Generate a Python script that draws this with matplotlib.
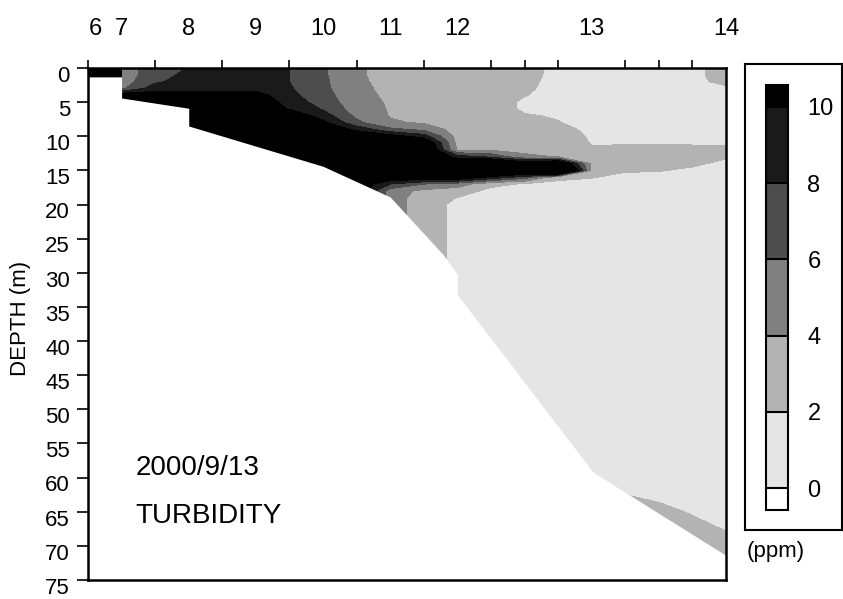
import numpy as np
import matplotlib
matplotlib.use('Agg')
import matplotlib.pyplot as plt
from matplotlib.transforms import ScaledTranslation

plt.rcParams['font.family'] = ['Liberation Sans', 'DejaVu Sans']

# horizontal position of each profile column (tick units along the section)
dist = [0, 0.99, 1, 2, 3, 4, 5, 6, 7, 8, 9, 10, 11, 12, 13, 14, 15, 16, 17, 18, 19]
depth = [0, 1, 2, 3, 4, 5, 6, 7, 8, 9, 10, 11, 12, 13, 14, 15, 16, 17, 18, 19, 20,
         22, 25, 30, 35, 40, 45, 50, 55, 60, 65, 70, 75]

# turbidity (ppm) profiles, one list per column in dist, values at each depth
turb = [
    [12]*21 + [12]*12,
    [12]*21 + [12]*12,
    [5, 5, 5, 5.5, 12, 12, 12, 12, 12, 12, 12, 12, 12, 12, 12, 12, 12, 12, 12, 12, 12] + [12]*12,
    [7, 7, 7.6, 9.2, 11, 12, 12, 12, 12, 12, 12, 12, 12, 12, 12, 12, 12, 12, 12, 12, 12] + [12]*12,
    [8.1, 8.6, 9, 9.2, 11, 12, 12, 12, 12, 12, 12, 12, 12, 12, 12, 12, 12, 12, 12, 12, 12] + [12]*12,
    [9, 9, 9, 9.2, 11, 12, 12, 12, 12, 12, 12, 12, 12, 12, 12, 12, 12, 12, 12, 12, 12] + [12]*12,
    [9, 9, 9, 9.2, 11, 12, 12, 12, 12, 12, 12, 12, 12, 12, 12, 12, 12, 12, 12, 12, 12] + [12]*12,
    [8, 8, 8, 8.2, 8.5, 9, 9.8, 12, 12, 12, 12, 12, 12, 12, 12, 12, 12, 12, 12, 12, 12] + [12]*12,
    [6.3, 6.3, 6.4, 6.5, 6.8, 7.2, 7.8, 9, 10.5, 12, 12, 12, 12, 12, 12, 12, 12, 12, 12, 12, 12] + [12]*12,
    [4.2, 4.2, 4.3, 4.4, 4.5, 4.7, 5, 5.5, 6.5, 9.5, 12, 12, 12, 12, 12, 12, 12, 12, 12, 12, 12] + [12]*12,
    [3.5, 3.5, 3.5, 3.6, 3.7, 3.8, 3.85, 3.9, 4.2, 6.5, 11, 12, 12, 12, 12, 12, 12, 8, 5, 5, 5] + [5]*12,
    [3, 3, 3, 3, 3.1, 3.2, 3.3, 3.5, 3.8, 5.5, 9, 13, 14, 14, 14, 14, 12, 6, 3.5, 3, 3] + [3]*12,
    [2.9, 2.9, 2.9, 2.9, 2.9, 3, 3, 3, 3.1, 3.1, 3.2, 3.4, 3.8, 9, 14, 14, 12, 5, 3, 1.95, 1.5] + [1.5]*12,
    [2.6, 2.6, 2.6, 2.6, 2.6, 2.6, 2.7, 2.8, 2.9, 3, 3.1, 3.3, 3.8, 7.5, 15, 14, 9.5, 2.5, 1.5, 1.5, 1.5] + [1.5]*12,
    [2.7, 2.6, 2.4, 2.2, 2.05, 1.8, 1.8, 2.1, 2.4, 2.6, 2.8, 3, 3.4, 4.5, 12, 14, 7, 1.8, 1.5, 1.5, 1.5] + [1.5]*12,
    [1.5, 1.5, 1.5, 1.6, 1.6, 1.7, 1.8, 1.9, 2.05, 2.4, 2.8, 3.2, 3.5, 3.9, 14, 20, 2.5, 1.5, 1.5, 1.5, 1.5] + [1.5]*12,
    [1.3, 1.3, 1.3, 1.3, 1.3, 1.3, 1.4, 1.5, 1.6, 1.7, 1.8, 1.9, 2.2, 3, 3.5, 3.5, 2.1, 1.4, 1.3, 1.3, 1.3] + [1.3]*12,
    [1.2]*11 + [1.8, 2.6, 2.8, 2.8, 2.2, 1.5, 1.2, 1.2, 1.2, 1.2] + [1.2]*8 + [1.5, 2.5, 2.8, 2.8],
    [1.2]*11 + [1.9, 2.6, 2.6, 2.5, 2.1, 1.5, 1.2, 1.2, 1.2, 1.2] + [1.2]*9 + [2.3, 2.8, 2.8],
    [1.7, 1.7, 1.6, 1.3, 1.2, 1.2, 1.2, 1.2, 1.2, 1.2, 1.2, 1.8, 2.5, 2.5, 2.3, 1.7, 1.2, 1.2, 1.2, 1.2, 1.2] + [1.2]*9 + [1.9, 2.8, 2.8],
    [2.5, 2.5, 2.4, 1.7, 1.3, 1.3, 1.3, 1.3, 1.3, 1.3, 1.3, 1.8, 2.4, 2.2, 1.6, 1.3, 1.3, 1.3, 1.3, 1.3, 1.3] + [1.3]*9 + [1.6, 2.3, 2.5],
]

# sea bottom along the section
bottom_x = [0, 1, 1, 3, 3, 7, 9, 10.57, 11, 11, 15.04, 19]
bottom_d = [1.3, 1.3, 4.4, 5.9, 8.5, 14.4, 18.9, 27.3, 30.2, 33.2, 59.2, 71.4]

station_names = ['6', '7', '8', '9', '10', '11', '12', '13', '14']
station_pos = [0.22, 1, 3, 5, 7, 9, 11, 15, 19]

levels = [0, 2, 4, 6, 8, 10]
colors = ['white', '#e5e5e5', '#b3b3b3', '#808080', '#4d4d4d', '#1a1a1a', 'black']

fig = plt.figure(figsize=(8.43, 5.99), dpi=100)
ax = fig.add_axes([0.1044, 0.0317, 0.7568, 0.8548])

X, Y = np.meshgrid(dist, depth)
Z = np.array(turb).T
cs = ax.contourf(X, Y, Z, levels=levels, colors=colors, extend='both')
ax.fill_between(bottom_x, bottom_d, 75, color='white', lw=0, zorder=2)

ax.set_xlim(0, 19)
ax.set_ylim(75, 0)

ax.xaxis.tick_top()
ax.set_xticks(station_pos)
ax.set_xticklabels(station_names)
ax.set_xticks(np.arange(0, 20), minor=True)
ax.tick_params(axis='x', which='major', length=0, pad=20, labelsize=17)
ax.tick_params(axis='x', which='minor', length=6, width=1.2, top=True, bottom=False)

ax.set_yticks(np.arange(0, 80, 5))
ax.tick_params(axis='y', length=8, width=1.2, pad=5, labelsize=16)
# depth labels sit a little below their ticks, as in the original
shift = ScaledTranslation(0, -6 / 72, fig.dpi_scale_trans)
for lab in ax.get_yticklabels():
    lab.set_verticalalignment('center')
    lab.set_transform(lab.get_transform() + shift)

for s in ax.spines.values():
    s.set_linewidth(1.8)
    s.set_zorder(5)

ax.text(0.074, 0.219, '2000/9/13', transform=ax.transAxes, fontsize=20, va='center')
ax.text(0.074, 0.125, 'TURBIDITY', transform=ax.transAxes, fontsize=20, va='center')

fig.text(0.024, 0.469, 'DEPTH (m)', rotation=90, va='center', ha='center', fontsize=16)

# colour key in its own box
box = fig.add_axes([0.8837, 0.1152, 0.1151, 0.778])
box.set_xticks([])
box.set_yticks([])
for s in box.spines.values():
    s.set_linewidth(1.5)

cax = fig.add_axes([0.9087, 0.1486, 0.0261, 0.7095])
cb = fig.colorbar(cs, cax=cax, ticks=levels, extendfrac=0.0575,
                  extendrect=True, drawedges=True)
cb.ax.tick_params(length=0, pad=14, labelsize=17)
cb.outline.set_linewidth(1.5)
cb.dividers.set_linewidth(1.5)

fig.text(0.886, 0.0785, '(ppm)', fontsize=16, va='center', ha='left')

fig.savefig('out.png', dpi=100)
